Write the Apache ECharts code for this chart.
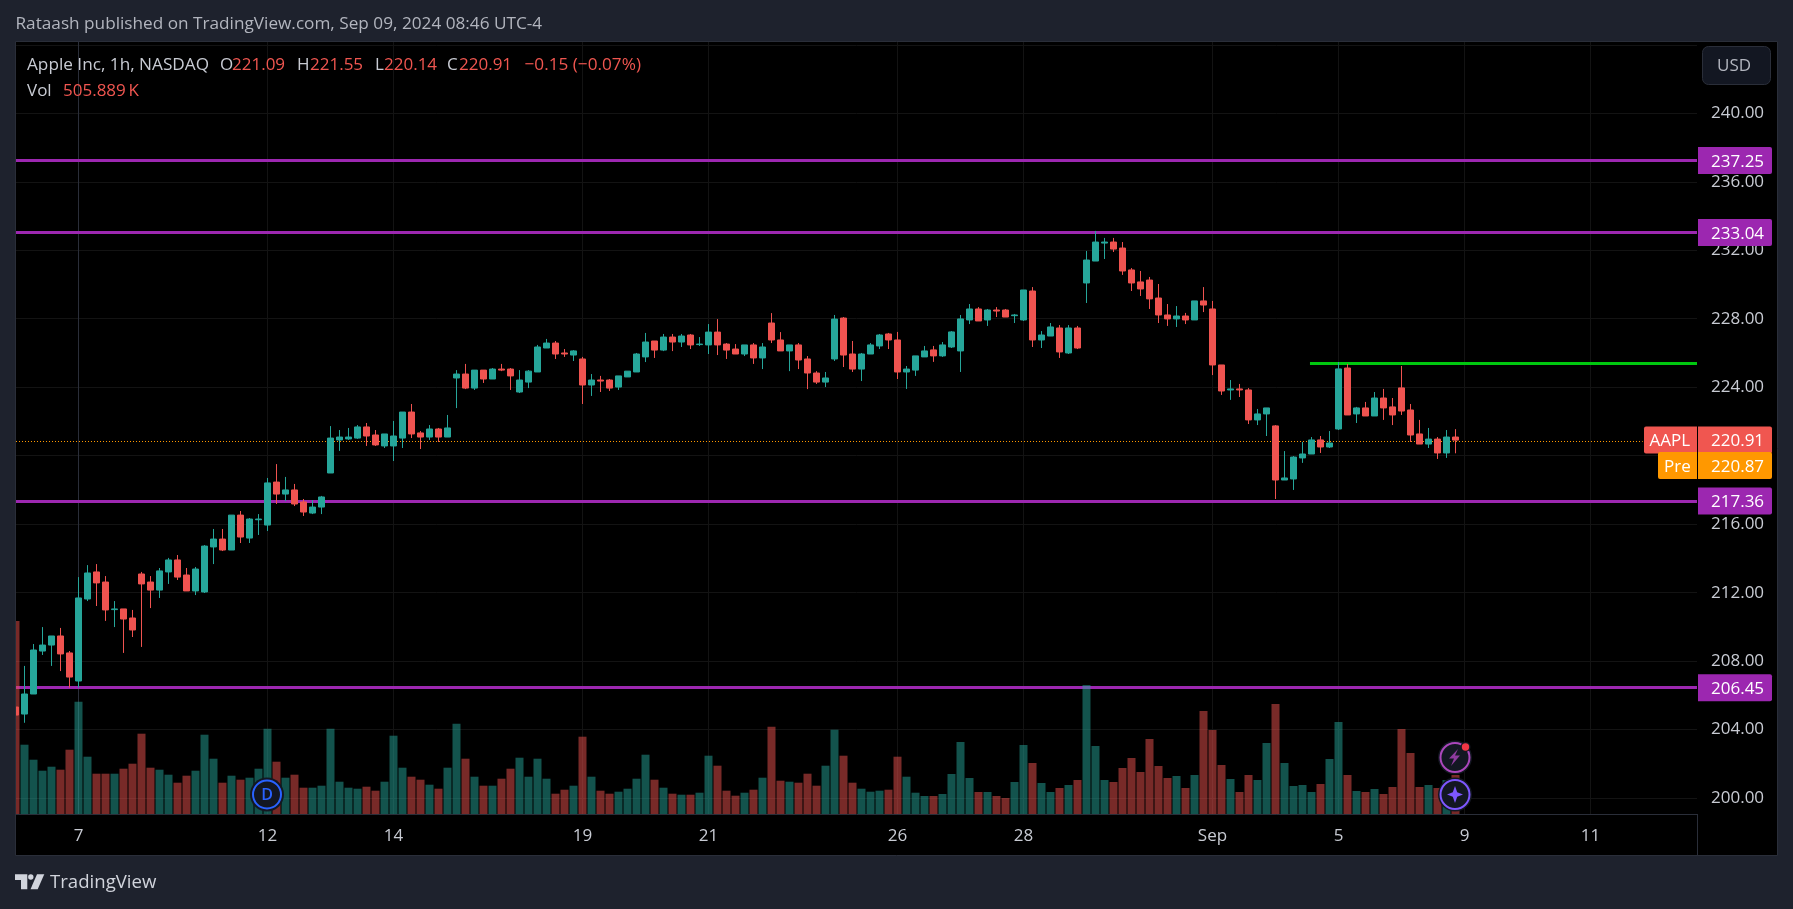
<!DOCTYPE html>
<html><head><meta charset="utf-8">
<style>html,body{margin:0;padding:0;background:#1e222d;overflow:hidden}#c{width:1793px;height:909px}</style>
<script src="https://cdn.jsdelivr.net/npm/echarts@6/dist/echarts.min.js"></script>
</head><body><div id="c"></div>
<script>
const opens = [205.32,204.91,206.08,208.59,208.94,209.47,208.48,
206.84,211.63,213.21,212.62,211.01,211.05,210.52,
213.09,212.62,212.15,213.21,213.91,213.03,212.10,
212.04,214.67,215.13,214.49,216.53,215.19,216.26,
215.95,218.46,217.76,218.00,217.30,216.65,217.00,
218.99,220.92,220.98,221.03,221.68,221.21,220.57,
220.57,221.03,222.55,221.33,221.09,221.56,221.09,
224.54,224.77,223.95,225.00,224.48,225.06,225.06,
223.72,224.30,224.89,226.29,226.58,226.00,225.88,
225.65,224.13,224.42,224.42,224.01,224.60,224.89,
225.77,226.70,226.17,226.93,226.64,227.05,226.49,
226.47,227.22,226.52,226.23,225.94,226.47,225.71,
227.75,226.76,226.12,226.47,225.65,224.83,224.30,
225.65,228.04,225.94,225.06,225.94,226.41,227.11,
226.76,224.89,225.00,225.77,226.18,225.83,226.35,
226.12,227.93,228.57,227.93,228.51,228.51,228.18,
227.93,229.62,226.76,226.99,227.46,226.00,227.46,
230.09,231.37,232.42,232.48,232.13,230.85,230.15,
230.26,229.21,228.22,227.99,228.16,227.93,229.04,
228.57,225.30,223.84,223.90,223.84,222.09,222.44,
221.74,218.58,218.64,219.87,220.10,220.92,220.51,
221.56,225.12,222.44,222.79,222.32,223.37,222.85,
223.96,222.67,221.27,220.68,220.97,220.16,221.09];
const highs = [206.31,207.72,209.00,209.99,209.47,209.94,208.59,
212.91,213.61,213.67,212.97,211.51,211.05,210.99,
213.21,212.97,213.44,214.03,214.20,213.44,213.50,
214.78,215.72,215.72,216.53,216.77,216.36,216.59,
218.70,219.51,218.76,218.35,217.47,217.41,217.65,
221.73,221.50,221.62,221.79,221.91,221.50,221.27,
222.03,222.55,223.02,221.44,221.79,221.62,222.38,
225.00,225.36,225.00,225.00,225.12,225.36,225.12,
225.00,225.00,226.47,226.82,226.70,226.23,226.17,
225.77,224.77,224.66,224.48,224.66,224.94,226.00,
227.17,226.70,227.11,227.11,227.11,227.11,226.93,
227.69,227.98,226.58,226.52,226.47,226.58,226.58,
228.33,227.22,226.47,226.58,225.82,224.94,224.89,
228.22,228.10,226.70,226.00,226.58,227.11,227.17,
227.23,225.24,225.83,226.41,226.41,226.64,227.28,
228.22,228.86,228.68,228.57,228.68,228.57,228.28,
229.68,229.85,227.28,227.75,227.63,227.63,227.58,
231.96,233.13,232.72,232.72,232.48,230.96,230.79,
230.44,230.03,228.86,228.74,228.34,229.04,229.85,
229.04,225.30,224.42,224.19,223.95,222.73,222.79,
221.79,220.27,219.98,220.80,221.09,221.15,221.44,
225.47,225.36,222.85,223.14,223.72,223.90,223.37,
225.24,223.02,222.09,221.62,221.09,221.50,221.55];
const lows = [201.06,204.40,206.08,208.36,207.72,207.42,206.45,
206.45,211.51,211.22,210.35,209.99,208.48,209.41,
208.83,211.10,211.69,212.51,212.74,212.10,211.86,
211.98,213.67,214.43,214.49,214.90,214.90,215.37,
215.60,217.18,217.35,217.06,216.48,216.59,216.59,
218.99,220.28,220.92,220.98,220.57,220.57,220.45,
219.69,220.45,221.03,220.39,220.92,220.80,221.09,
222.78,223.89,223.84,224.25,224.48,224.94,223.84,
223.66,223.95,224.89,226.29,225.65,225.77,225.53,
223.02,223.49,223.72,223.78,223.84,224.60,224.89,
225.47,225.71,226.11,226.11,226.35,226.23,226.41,
225.94,225.88,225.65,225.94,225.82,225.36,225.06,
226.58,226.12,224.94,225.06,223.89,224.19,224.01,
225.53,225.18,224.89,224.36,225.94,226.23,226.23,
224.48,223.90,224.66,225.77,225.48,225.77,226.29,
224.89,227.69,227.87,227.58,228.10,228.10,227.75,
227.87,226.35,226.29,226.99,225.71,225.94,226.23,
228.92,231.37,231.49,231.90,230.56,229.62,229.33,
228.57,227.75,227.58,227.52,227.69,227.93,228.39,
224.71,223.55,223.26,223.43,221.85,221.79,221.15,
217.47,218.58,218.00,219.58,220.10,220.16,220.45,
221.50,222.38,221.91,222.32,222.32,222.09,221.79,
222.38,220.80,220.68,220.45,219.81,219.87,220.14];
const closes = [204.85,206.08,208.65,208.94,209.47,208.42,207.07,
211.69,213.15,212.57,210.99,211.05,210.46,209.82,
212.51,212.15,213.27,213.91,212.91,212.10,213.38,
214.72,215.13,214.49,216.53,215.25,216.30,216.30,
218.41,217.76,218.00,217.18,216.71,217.00,217.59,
221.03,221.09,221.09,221.68,221.15,220.63,221.27,
221.15,222.55,221.27,221.09,221.56,221.09,221.62,
224.77,223.95,225.00,224.48,225.06,225.00,224.66,
224.42,224.94,226.35,226.58,225.94,225.94,226.12,
224.13,224.42,224.36,223.95,224.66,224.94,225.94,
226.64,226.17,226.93,226.64,226.99,226.47,226.52,
227.22,226.47,226.17,225.94,226.47,225.71,226.35,
226.76,226.12,226.47,225.59,224.83,224.30,224.54,
227.98,225.88,225.06,225.94,226.47,227.05,226.76,
224.89,225.06,225.83,226.12,225.83,226.47,227.23,
227.99,228.57,227.87,228.51,228.45,228.10,228.22,
229.68,226.76,227.05,227.52,226.06,227.46,226.29,
231.43,232.48,232.48,232.07,230.79,230.09,229.74,
229.16,228.22,227.99,228.16,227.93,229.04,228.80,
225.30,223.78,223.90,223.84,222.09,222.44,222.79,
218.58,218.70,219.92,220.10,220.92,220.51,220.74,
225.07,222.38,222.79,222.32,223.37,222.79,222.38,
222.61,221.21,220.68,220.97,220.16,221.09,220.91];
// volume in millions
const volumes = [19.30,6.93,5.43,4.33,4.73,4.43,6.43,
11.23,5.73,4.03,4.03,4.03,4.53,5.03,
8.03,4.63,4.43,3.93,3.13,3.83,4.33,
7.93,5.53,3.13,3.83,3.43,3.63,4.53,
8.53,5.23,3.63,3.93,2.63,2.63,2.83,
8.53,3.23,2.63,2.53,2.73,2.33,3.23,
7.83,4.63,3.73,3.43,2.93,2.53,4.63,
9.03,5.53,3.73,2.83,2.83,3.53,4.53,
5.63,3.73,5.53,3.53,2.03,2.43,2.83,
7.73,3.73,2.33,2.03,2.23,2.53,3.53,
5.93,3.43,2.63,2.03,1.93,1.93,2.13,
5.83,4.83,2.33,1.83,2.13,2.43,3.63,
8.73,3.33,3.23,3.13,4.03,2.83,4.83,
8.43,5.83,3.13,2.53,2.23,2.33,2.43,
5.73,3.73,2.13,1.80,1.80,2.00,4.00,
7.20,3.60,2.20,2.20,1.80,1.60,3.20,
6.90,5.10,3.10,2.20,2.60,2.90,3.40,
12.90,6.80,3.40,3.20,4.60,5.60,4.20,
7.50,4.80,3.60,3.80,2.60,3.90,10.30,
8.40,4.90,3.50,2.20,3.90,3.40,7.10,
11.00,5.10,2.80,2.90,2.20,3.00,5.50,
9.20,3.90,2.30,2.20,2.50,2.00,2.70,
8.50,6.10,2.70,2.90,2.60,3.40,3.90];
const firstBar = -7;
const timeTickBars = [0,21,35,56,70,91,105,126,140,154,168];
const timeTickLabels = ['7','12','14','19','21','26','28','Sep','5','9','11'];
const priceTicks = [200,204,208,212,216,220,224,228,232,236,240,244];
const priceLabelTicks = [200,204,208,212,216,224,228,232,236,240];
const levels = [237.25,233.04,217.36,206.45];
const resistance = 225.40;
const resistanceFromBar = 136.83;
const lastPrice = 220.91;
const prePrice = 220.87;

const FONT = '"Open Sans","Noto Sans",sans-serif';
const UP='#26a69a', DOWN='#ef5350', UPV='rgba(38,166,154,0.5)', DOWNV='rgba(239,83,80,0.5)';
const X_MIN=(16-78.5)/9, X_MAX=(1697-78.5)/9;
const barIdx=opens.map((_,i)=>i+firstBar);
const candleData=opens.map((o,i)=>[barIdx[i],o,closes[i],lows[i],highs[i]]);
const volData=volumes.map((v,i)=>({value:[barIdx[i],v],itemStyle:{color:closes[i]>=opens[i]?UPV:DOWNV}}));

const chart=echarts.init(document.getElementById('c'),null,{renderer:'canvas'});
const lineMarks=levels.map(v=>({yAxis:v,lineStyle:{color:'#9c27b0',width:3,type:'solid'}}));
chart.setOption({
  animation:false,backgroundColor:'#1e222d',
  grid:{left:16,right:96,top:42,bottom:95,containLabel:false},
  xAxis:{type:'value',min:X_MIN,max:X_MAX,
    axisLine:{show:true,onZero:false,lineStyle:{color:'#2a2e39',width:1}},
    axisTick:{show:false,customValues:timeTickBars},
    splitLine:{show:true,lineStyle:{color:'#131313',width:1}},
    axisLabel:{customValues:timeTickBars,margin:14,color:'#c8cbd3',fontFamily:FONT,fontSize:17,
      formatter:v=>timeTickLabels[timeTickBars.indexOf(v)]||''}},
  yAxis:[{type:'value',position:'right',min:240-(814-113.3)/17.12,max:240+(113.3-42)/17.12,
    axisLine:{show:true,lineStyle:{color:'#2a2e39',width:1}},
    axisTick:{show:false,customValues:priceTicks},
    splitLine:{show:true,lineStyle:{color:'#131313',width:1}},
    axisLabel:{customValues:priceLabelTicks,margin:14,color:'#c8cbd3',fontFamily:FONT,fontSize:17,padding:[3,0,0,0],
      formatter:v=>v.toFixed(2)}},
   {type:'value',show:false,min:0,max:77.2,splitLine:{show:false}}],
  series:[
   {type:'line',name:'levels',data:[],xAxisIndex:0,yAxisIndex:0,z:1,
    markLine:{z:1,silent:true,symbol:'none',label:{show:false},animation:false,
      data:[...lineMarks,
        [{coord:[resistanceFromBar,resistance],lineStyle:{color:'#00c80f',width:3,type:'solid'}},{coord:[X_MAX,resistance]}],
        [{coord:[X_MIN,prePrice],lineStyle:{color:'#ff9800',width:1,type:[1,2]}},{coord:[173.8,prePrice]}]]}},
   {type:'bar',name:'Vol',xAxisIndex:0,yAxisIndex:1,data:volData,barWidth:8,z:2},
   {type:'candlestick',name:'AAPL',xAxisIndex:0,yAxisIndex:0,data:candleData,encode:{x:0,y:[1,2,3,4]},barWidth:7,z:3,
    itemStyle:{color:UP,color0:DOWN,borderColor:UP,borderColor0:DOWN,borderWidth:1}}
  ]
});

const TXT_DY=1.5;
const textStyle=(text,fill,font,center)=>({text,fill,font,align:center?'center':'left',textAlign:center?'center':'left',verticalAlign:'middle',textVerticalAlign:'middle'});
const T=(text,x,y,fill,size,weight)=>({type:'text',x,y:y+TXT_DY,z:100,style:textStyle(text,fill,`${weight||400} ${size||17}px ${FONT}`)});
const RED='#f05650', GREY='#c8cbd3';
const py=p=>chart.convertToPixel({yAxisIndex:0},p);
const tag=(y,color,text)=>[
  {type:'rect',z:90,shape:{x:1698,y:y-13.5,width:74,height:27,r:[0,2,2,0]},style:{fill:color}},
  {type:'text',z:91,x:1711,y:y+TXT_DY,style:textStyle(text,'#fff',`500 17px ${FONT}`)}];
const ty=py(lastPrice), pyy=ty+25.3;
const g=[
 {type:'rect',z:-1,shape:{x:15.5,y:41.5,width:1762,height:814},style:{fill:'#000',stroke:'#2a2e39',lineWidth:1}},
 {type:'rect',z:50,shape:{x:0,y:42,width:15,height:774},style:{fill:'#1e222d'}},
 {type:'line',z:50,shape:{x1:15.5,y1:42,x2:15.5,y2:855},style:{stroke:'#2a2e39',lineWidth:1}},
 {type:'line',z:50,shape:{x1:1697.5,y1:814,x2:1697.5,y2:855},style:{stroke:'#2a2e39',lineWidth:1}},
 T('Rataash published on TradingView.com, Sep 09, 2024 08:46 UTC-4',15.5,23,'#b2b5be',17.2),
 T('Apple Inc, 1h, NASDAQ',27,64,GREY,17.2),
 T('O',220,64,GREY),T('221.09',232,64,RED),
 T('H',297,64,GREY),T('221.55',310,64,RED),
 T('L',375,64,GREY),T('220.14',384,64,RED),
 T('C',447,64,GREY),T('220.91',459,64,RED),
 T('\u22120.15 (\u22120.07%)',524.5,64,RED,17.2),
 T('Vol',27,90,GREY),T('505.889\u2009K',63,90,RED),
 // USD button
 {type:'rect',z:90,shape:{x:1702.5,y:46.5,width:68,height:38,r:6},style:{fill:'#131722',stroke:'#2a2e39',lineWidth:1}},
 T('USD',1717,65,'#b2b5be'),
 // tags
 ...levels.flatMap(v=>tag(py(v),'#9c27b0',v.toFixed(2))),
 ...tag(ty,RED,lastPrice.toFixed(2)),
 ...tag(pyy,'#ff9800',prePrice.toFixed(2)),
 {type:'rect',z:92,shape:{x:1644,y:ty-13.5,width:53,height:27,r:[2,0,0,2]},style:{fill:RED}},
 {type:'text',z:93,x:1649.5,y:ty+TXT_DY,style:textStyle('AAPL','#fff',`500 17px ${FONT}`)},
 {type:'rect',z:92,shape:{x:1658,y:pyy-13.5,width:39,height:27,r:[2,0,0,2]},style:{fill:'#ff9800'}},
 {type:'text',z:93,x:1664,y:pyy+TXT_DY,style:textStyle('Pre','#fff',`500 17px ${FONT}`)},
 // D badge
 {type:'circle',z:80,shape:{cx:267,cy:794.5,r:17},style:{fill:'#131722'}},
 {type:'circle',z:81,shape:{cx:267,cy:794.5,r:14},style:{fill:'#131722',stroke:'#2962ff',lineWidth:2}},
 {type:'text',z:82,x:267,y:795.5,style:textStyle('D','#2962ff',`600 16px ${FONT}`,true)},
 // lightning badge
 {type:'circle',z:80,shape:{cx:1455,cy:757.5,r:17},style:{fill:'#131722'}},
 {type:'circle',z:81,shape:{cx:1455,cy:757.5,r:14.5},style:{fill:'#131722',stroke:'#ab47bc',lineWidth:2}},
 {type:'polygon',z:82,shape:{points:[[1458,749],[1449,758.5],[1454,758.5],[1451,766],[1460,755.5],[1455,755.5]]},style:{fill:'#8e3b9e'}},
 {type:'circle',z:83,shape:{cx:1465.5,cy:747,r:5},style:{fill:'#131722'}},
 {type:'circle',z:84,shape:{cx:1465.5,cy:747,r:3.7},style:{fill:'#f23645'}},
 // star badge
 {type:'circle',z:80,shape:{cx:1455,cy:794.5,r:17},style:{fill:'#131722'}},
 {type:'circle',z:81,shape:{cx:1455,cy:794.5,r:14.5},style:{fill:'#131722',stroke:'#7e57ff',lineWidth:2}},
 {type:'polygon',z:82,shape:{points:[[1455,786],[1457.2,792.3],[1463,794.5],[1457.2,796.7],[1455,803],[1452.8,796.7],[1447,794.5],[1452.8,792.3]]},style:{fill:'#7e57ff'}},
 // logo
 {type:'polygon',z:50,shape:{points:[[15,874.3],[27.3,874.3],[27.3,889.3],[21,889.3],[21,880],[15,880]]},style:{fill:'#d1d4dc'}},
 {type:'circle',z:50,shape:{cx:30.8,cy:877,r:2.7},style:{fill:'#d1d4dc'}},
 {type:'polygon',z:50,shape:{points:[[37,874.3],[44.3,874.3],[37.7,889.3],[30.5,889.3]]},style:{fill:'#d1d4dc'}},
 T('TradingView',50,881.5,'#d1d4dc',18.6,500)
];
chart.setOption({graphic:g});
</script></body></html>
